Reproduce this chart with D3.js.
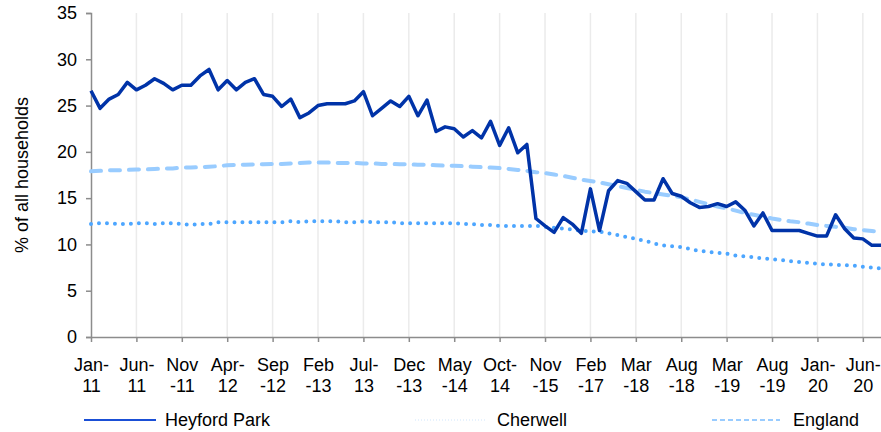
<!DOCTYPE html>
<html>
<head>
<meta charset="utf-8">
<script src="https://cdn.jsdelivr.net/npm/d3@7"></script>
<style>
  body { margin: 0; background: #fff; }
  text { font-family: "Liberation Sans", Arial, sans-serif; fill: #000; }
</style>
</head>
<body>
<div id="chart"></div>
<script>
/* DATA - % of all households, one value per period */
const heyfordPark = [26.6, 24.7, 25.7, 26.2, 27.5, 26.7, 27.2, 27.9, 27.4, 26.7,
  27.2, 27.2, 28.2, 28.9, 26.7, 27.7, 26.7, 27.5, 27.9, 26.2,
  26.0, 24.9, 25.7, 23.7, 24.2, 25.0, 25.2, 25.2, 25.2, 25.5,
  26.5, 23.9, 24.7, 25.5, 24.9, 26.0, 23.9, 25.6, 22.2, 22.7,
  22.5, 21.6, 22.3, 21.5, 23.3, 20.7, 22.6, 19.9, 20.8, 12.8,
  12.0, 11.3, 12.9, 12.2, 11.2, 16.0, 11.5, 15.8, 16.9, 16.6,
  15.7, 14.8, 14.8, 17.1, 15.5, 15.2, 14.5, 14.0, 14.1, 14.4,
  14.1, 14.6, 13.7, 12.0, 13.4, 11.5, 11.5, 11.5, 11.5, 11.2,
  10.9, 10.9, 13.2, 11.7, 10.7, 10.6, 9.9, 9.9];

const cherwell = [12.2, 12.3, 12.3, 12.2, 12.2, 12.3, 12.3, 12.2, 12.3, 12.3,
  12.2, 12.1, 12.2, 12.2, 12.4, 12.4, 12.4, 12.4, 12.4, 12.4,
  12.4, 12.4, 12.5, 12.4, 12.5, 12.5, 12.5, 12.5, 12.4, 12.4,
  12.5, 12.4, 12.4, 12.4, 12.3, 12.3, 12.3, 12.3, 12.3, 12.3,
  12.3, 12.2, 12.2, 12.1, 12.1, 12.0, 12.0, 12.0, 12.0, 12.0,
  11.9, 11.8, 11.7, 11.6, 11.5, 11.4, 11.4, 11.2, 11.0, 10.8,
  10.6, 10.4, 10.1, 9.9, 9.8, 9.7, 9.5, 9.3, 9.2, 9.1,
  9.0, 8.8, 8.7, 8.6, 8.5, 8.4, 8.3, 8.2, 8.1, 8.0,
  7.9, 7.85, 7.8, 7.75, 7.7, 7.6, 7.5, 7.4];

const england = [17.9, 17.95, 18.0, 18.0, 18.05, 18.1, 18.1, 18.15, 18.2, 18.2,
  18.3, 18.3, 18.35, 18.4, 18.45, 18.55, 18.6, 18.6, 18.65, 18.65,
  18.7, 18.7, 18.75, 18.8, 18.85, 18.85, 18.85, 18.8, 18.8, 18.8,
  18.75, 18.75, 18.7, 18.7, 18.65, 18.65, 18.6, 18.6, 18.55, 18.5,
  18.5, 18.45, 18.4, 18.35, 18.3, 18.25, 18.15, 18.05, 17.95, 17.8,
  17.7, 17.55, 17.4, 17.2, 17.0, 16.85, 16.7, 16.5, 16.3, 16.1,
  15.9, 15.7, 15.55, 15.4, 15.25, 15.1, 14.85, 14.6, 14.35, 14.1,
  13.9, 13.65, 13.4, 13.2, 13.0, 12.8, 12.65, 12.5, 12.4, 12.25,
  12.1, 12.0, 11.9, 11.8, 11.65, 11.55, 11.45, 11.35];

// one label every 5th period (the periods are not evenly spaced in time)
const tickLabels = ["Jan-\n11", "Jun-\n11", "Nov\n-11", "Apr-\n12", "Sep\n-12", "Feb\n-13",
  "Jul-\n13", "Dec\n-13", "May\n-14", "Oct-\n14", "Nov\n-15", "Feb\n-17",
  "Mar\n-18", "Aug\n-18", "Mar\n-19", "Aug\n-19", "Jan-\n20", "Jun-\n20"];
const tickStep = 5;
const yTicks = [0, 5, 10, 15, 20, 25, 30, 35];

/* CONSTANTS */
const width = 881, height = 432;
const margin = { top: 13, right: 0, bottom: 95, left: 91 };
const axisColor = "#8c8c8c", gridColor = "#ebebeb";
const fontSize = 18;

const series = [
  { name: "Heyford Park", values: heyfordPark, color: "#0033a8", w: 3.5, dash: null, cap: "butt",
    legend: { x1: 84, x2: 156, w: 2, dash: null, color: "#1a4fd6", tx: 165 } },
  { name: "Cherwell", values: cherwell, color: "#4da6ff", w: 4, dash: "0,8", cap: "round",
    legend: { x1: 415, x2: 485, w: 1.2, dash: "1,2", color: "#cfe6fb", tx: 497 } },
  { name: "England", values: england, color: "#99ccff", w: 4, dash: "10,9", cap: "round",
    legend: { x1: 712, x2: 780, w: 2, dash: "5,3", color: "#99ccff", tx: 793 } }
];

const svg = d3.select("#chart").append("svg")
  .attr("width", width).attr("height", height);

const xScale = d3.scaleLinear()
  .domain([0, heyfordPark.length - 1])
  .range([margin.left, width - margin.right]);

const yScale = d3.scaleLinear()
  .domain([0, 35])
  .range([height - margin.bottom, margin.top]);

const tickIdx = tickLabels.map((d, i) => i * tickStep);

// vertical gridlines
svg.append("g")
  .selectAll("line")
  .data(tickIdx.slice(1))
  .join("line")
  .attr("x1", d => xScale(d)).attr("x2", d => xScale(d))
  .attr("y1", yScale(35)).attr("y2", yScale(0))
  .attr("stroke", gridColor).attr("stroke-width", 1.5);

// y axis
const yAxisGroup = svg.append("g")
  .attr("transform", `translate(${margin.left},0)`)
  .call(d3.axisLeft(yScale).tickValues(yTicks).tickSize(5).tickPadding(9));
yAxisGroup.select(".domain").attr("stroke", axisColor).attr("stroke-width", 1.5);
yAxisGroup.selectAll(".tick line").attr("stroke", axisColor).attr("stroke-width", 1.5);
yAxisGroup.selectAll("text").attr("font-size", fontSize).attr("font-family", null).attr("fill", "#000");

// x axis
const xAxisGroup = svg.append("g")
  .attr("transform", `translate(0,${yScale(0)})`)
  .call(d3.axisBottom(xScale).tickValues(tickIdx).tickSize(5).tickSizeOuter(0).tickFormat(() => ""));
xAxisGroup.select(".domain").attr("stroke", axisColor).attr("stroke-width", 1.5);
xAxisGroup.selectAll(".tick line").attr("stroke", axisColor).attr("stroke-width", 1.5);

xAxisGroup.selectAll(".tick text")
  .attr("font-size", fontSize).attr("font-family", null)
  .each(function (d, i) {
    const parts = tickLabels[i].split("\n");
    const t = d3.select(this).attr("y", 0).attr("dy", null).text(null);
    parts.forEach((p, j) => {
      t.append("tspan").attr("x", 0).attr("y", 34 + j * 21).text(p);
    });
  });

// y axis title
svg.append("text")
  .attr("transform", `translate(28,${(yScale(0) + yScale(35)) / 2}) rotate(-90)`)
  .attr("text-anchor", "middle")
  .attr("font-size", fontSize)
  .text("% of all households");

// lines
const line = d3.line()
  .x((d, i) => xScale(i))
  .y(d => yScale(d));

// draw England first, then Cherwell, Heyford Park on top
[series[2], series[1], series[0]].forEach(s => {
  svg.append("path")
    .datum(s.values)
    .attr("fill", "none")
    .attr("stroke", s.color)
    .attr("stroke-width", s.w)
    .attr("stroke-linejoin", "round")
    .attr("stroke-linecap", s.cap)
    .attr("stroke-dasharray", s.dash)
    .attr("d", line);
});

// legend
const legend = svg.append("g");
series.forEach(s => {
  legend.append("line")
    .attr("x1", s.legend.x1).attr("x2", s.legend.x2)
    .attr("y1", 420).attr("y2", 420)
    .attr("stroke", s.legend.color)
    .attr("stroke-width", s.legend.w)
    .attr("stroke-dasharray", s.legend.dash);
  legend.append("text")
    .attr("x", s.legend.tx).attr("y", 426)
    .attr("font-size", fontSize)
    .text(s.name);
});
</script>
</body>
</html>
